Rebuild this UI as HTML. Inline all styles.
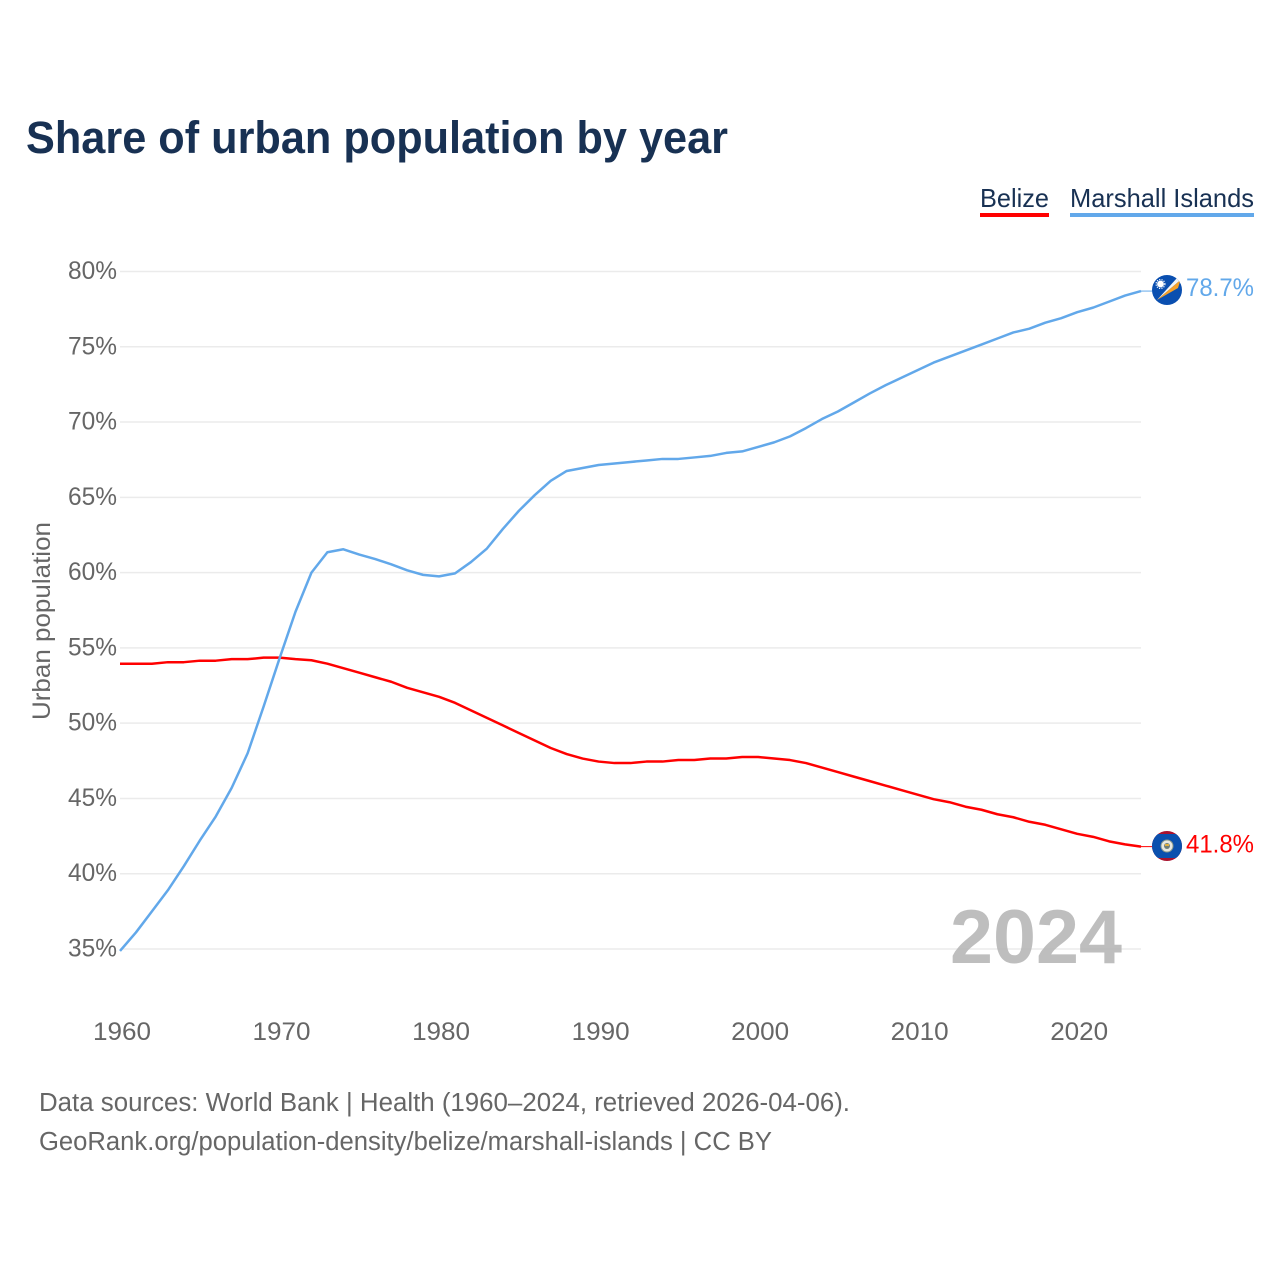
<!DOCTYPE html>
<html lang="en">
<head>
<meta charset="utf-8">
<title>Share of urban population by year</title>
<style>
html,body{margin:0;padding:0;background:#fff;}
svg{display:block;font-family:"Liberation Sans",sans-serif;}
</style>
</head>
<body>
<svg id="chart" width="1280" height="1280" viewBox="0 0 1280 1280" xmlns="http://www.w3.org/2000/svg">
  <defs>
    <clipPath id="flag-clip-mh"><circle cx="1167" cy="290" r="15"/></clipPath>
    <clipPath id="flag-clip-bz"><circle cx="1167" cy="846" r="15"/></clipPath>
  </defs>
  <rect width="1280" height="1280" fill="#fff"/>
  <text x="26" y="153" font-size="45" font-weight="700" fill="#183153" textLength="702" lengthAdjust="spacingAndGlyphs">Share of urban population by year</text>

  <g>
    <g>
      <text x="980" y="207" font-size="26" fill="#183153" textLength="69" lengthAdjust="spacingAndGlyphs">Belize</text>
      <rect x="980" y="213" width="69" height="4" fill="#ff0000"/>
    </g>
    <g>
      <text x="1070" y="207" font-size="26" fill="#183153" textLength="184" lengthAdjust="spacingAndGlyphs">Marshall Islands</text>
      <rect x="1070" y="213" width="184" height="4" fill="#62a8ea"/>
    </g>
  </g>

  <g id="grid"></g>
  <g id="y-axis"></g>
  <g id="x-axis"></g>
  <text transform="translate(50,621) rotate(-90)" text-anchor="middle" font-size="25" fill="#666" textLength="198" lengthAdjust="spacingAndGlyphs">Urban population</text>

  <text x="1122" y="963" text-anchor="end" font-size="76" font-weight="700" fill="#b3b3b3" fill-opacity="0.85" textLength="172" lengthAdjust="spacingAndGlyphs">2024</text>

  <g id="series"></g>

  <g clip-path="url(#flag-clip-mh)">
    <rect x="1152" y="275" width="30" height="30" fill="#0a4fb0"/>
    <polygon points="1157,300 1177,278 1180.5,280" fill="#f4f4f4"/>
    <polygon points="1157,300 1180.5,280 1178,288" fill="#f7a128"/>
    <circle cx="1160.5" cy="284" r="3.4" fill="#fff"/>
    <circle cx="1160.5" cy="284" r="4.4" fill="none" stroke="#fff" stroke-width="1.2" stroke-dasharray="1.2 1.2"/>
  </g>
  <g clip-path="url(#flag-clip-bz)">
    <rect x="1152" y="831" width="30" height="30" fill="#a8122e"/>
    <rect x="1152" y="834" width="30" height="24" fill="#0a50ae"/>
    <circle cx="1167" cy="846" r="6" fill="#e8e8e0" stroke="#8c9a8c" stroke-width="1"/>
    <circle cx="1167" cy="846" r="3" fill="#6e7f78"/>
    <rect x="1165" y="844" width="4" height="2" fill="#e0b040"/>
  </g>

  <text id="end-label-mh" x="1186" y="296" font-size="25" fill="#62a8ea" textLength="68" lengthAdjust="spacingAndGlyphs"></text>
  <text id="end-label-bz" x="1186" y="852.5" font-size="25" fill="#ff0000" textLength="68" lengthAdjust="spacingAndGlyphs"></text>

  <g>
    <text x="39" y="1111" font-size="25.5" fill="#666" textLength="811" lengthAdjust="spacingAndGlyphs">Data sources: World Bank | Health (1960–2024, retrieved 2026-04-06).</text>
    <text x="39" y="1150" font-size="25.5" fill="#666" textLength="733" lengthAdjust="spacingAndGlyphs">GeoRank.org/population-density/belize/marshall-islands | CC BY</text>
  </g>
</svg>
<script>
const startYear = 1960;
const yTicks = [35, 40, 45, 50, 55, 60, 65, 70, 75, 80];
const xTicks = [1960, 1970, 1980, 1990, 2000, 2010, 2020];
const belize = [53.95,53.95,53.95,54.05,54.05,54.15,54.15,54.25,54.25,54.35,54.35,54.25,54.18,53.95,53.65,53.35,53.05,52.75,52.35,52.05,51.75,51.35,50.85,50.35,49.85,49.35,48.85,48.35,47.95,47.65,47.45,47.35,47.35,47.45,47.45,47.55,47.55,47.65,47.65,47.75,47.75,47.65,47.55,47.35,47.05,46.75,46.45,46.15,45.85,45.55,45.25,44.95,44.75,44.45,44.25,43.95,43.75,43.45,43.25,42.95,42.65,42.45,42.15,41.95,41.8];
const marshallIslands = [34.87,36.1,37.5,38.9,40.5,42.2,43.8,45.7,48.0,51.1,54.3,57.4,60.0,61.35,61.55,61.2,60.9,60.55,60.15,59.85,59.75,59.95,60.7,61.6,62.9,64.1,65.15,66.1,66.75,66.95,67.15,67.25,67.35,67.45,67.55,67.55,67.65,67.75,67.95,68.05,68.35,68.65,69.05,69.6,70.2,70.7,71.3,71.9,72.45,72.95,73.45,73.95,74.35,74.75,75.15,75.55,75.95,76.2,76.6,76.9,77.3,77.6,78.0,78.4,78.7];

const SVG_NS = 'http://www.w3.org/2000/svg';
const xScale = function (year) { return 120 + (year - 1960) * (1141 - 120) / 64; };
const yScale = function (v) { return 949 - (v - 35) * (949 - 271.5) / 45; };

const gridGroup = document.getElementById('grid');
const yAxisGroup = document.getElementById('y-axis');
const xAxisGroup = document.getElementById('x-axis');
const seriesGroup = document.getElementById('series');

yTicks.forEach(function (t) {
  const line = document.createElementNS(SVG_NS, 'line');
  
  
  line.setAttribute('x1', 120);
  line.setAttribute('x2', 1141);
  line.setAttribute('y1', yScale(t));
  line.setAttribute('y2', yScale(t));
  line.setAttribute('stroke', '#ebebeb');
  line.setAttribute('stroke-width', 1.5);
  gridGroup.appendChild(line);

  const label = document.createElementNS(SVG_NS, 'text');
  
  
  label.setAttribute('x', 117);
  label.setAttribute('y', yScale(t) + 7.5);
  label.setAttribute('text-anchor', 'end');
  label.setAttribute('font-size', 25);
  label.setAttribute('fill', '#666');
  label.setAttribute('textLength', 49);
  label.setAttribute('lengthAdjust', 'spacingAndGlyphs');
  label.textContent = t + '%';
  yAxisGroup.appendChild(label);
});

xTicks.forEach(function (t) {
  const label = document.createElementNS(SVG_NS, 'text');
  
  
  label.setAttribute('x', xScale(t) + 2);
  label.setAttribute('y', 1040);
  label.setAttribute('text-anchor', 'middle');
  label.setAttribute('font-size', 25);
  label.setAttribute('fill', '#666');
  label.setAttribute('textLength', 58);
  label.setAttribute('lengthAdjust', 'spacingAndGlyphs');
  label.textContent = t;
  xAxisGroup.appendChild(label);
});

function linePath(values) {
  return values.map(function (v, i) {
    return (i === 0 ? 'M' : 'L') + xScale(startYear + i).toFixed(2) + ' ' + yScale(v).toFixed(2);
  }).join(' ');
}

const belizeLine = document.createElementNS(SVG_NS, 'path');


belizeLine.setAttribute('d', linePath(belize));
belizeLine.setAttribute('fill', 'none');
belizeLine.setAttribute('stroke', '#ff0000');
belizeLine.setAttribute('stroke-width', 2.5);
belizeLine.setAttribute('stroke-linejoin', 'round');
seriesGroup.appendChild(belizeLine);

const marshallLine = document.createElementNS(SVG_NS, 'path');


marshallLine.setAttribute('d', linePath(marshallIslands));
marshallLine.setAttribute('fill', 'none');
marshallLine.setAttribute('stroke', '#62a8ea');
marshallLine.setAttribute('stroke-width', 2.5);
marshallLine.setAttribute('stroke-linejoin', 'round');
seriesGroup.appendChild(marshallLine);

const belizeLast = belize[belize.length - 1];
const marshallLast = marshallIslands[marshallIslands.length - 1];

const belizeConnector = document.createElementNS(SVG_NS, 'line');


belizeConnector.setAttribute('x1', xScale(2024));
belizeConnector.setAttribute('x2', 1153);
belizeConnector.setAttribute('y1', yScale(belizeLast));
belizeConnector.setAttribute('y2', yScale(belizeLast));
belizeConnector.setAttribute('stroke', '#ff0000');
belizeConnector.setAttribute('stroke-width', 1);
seriesGroup.appendChild(belizeConnector);

const marshallConnector = document.createElementNS(SVG_NS, 'line');


marshallConnector.setAttribute('x1', xScale(2024));
marshallConnector.setAttribute('x2', 1153);
marshallConnector.setAttribute('y1', yScale(marshallLast));
marshallConnector.setAttribute('y2', yScale(marshallLast));
marshallConnector.setAttribute('stroke', '#62a8ea');
marshallConnector.setAttribute('stroke-width', 1);
seriesGroup.appendChild(marshallConnector);

document.getElementById('end-label-mh').textContent = marshallLast.toFixed(1) + '%';
document.getElementById('end-label-bz').textContent = belizeLast.toFixed(1) + '%';
</script>
</body>
</html>
